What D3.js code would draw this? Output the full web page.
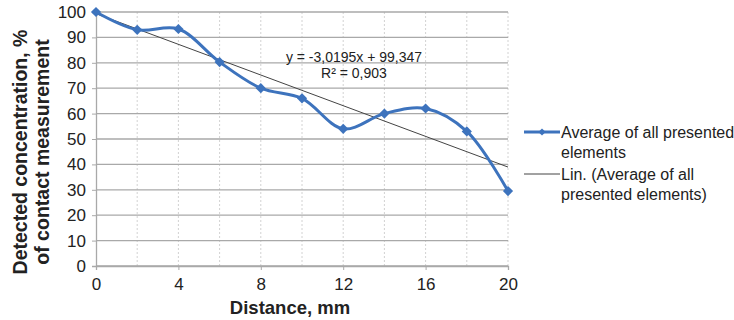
<!DOCTYPE html>
<html>
<head>
<meta charset="utf-8">
<script src="https://cdn.jsdelivr.net/npm/d3@7"></script>
<style>
  html, body { margin: 0; padding: 0; background: #fff; }
  svg { display: block; font-family: "Liberation Sans", Arial, sans-serif; }
</style>
</head>
<body>
<svg id="chart" width="734" height="320"></svg>
<script>
// Distance from contact point (mm) and averaged detected concentration (%)
const distances = [0, 2, 4, 6, 8, 10, 12, 14, 16, 18, 20];
const averages = [100, 93, 93.3, 80.3, 70, 66, 54, 60, 62, 53, 29.5];

// Linear trend reported for the series
const trendSlope = -3.0195;
const trendIntercept = 99.347;
const trendLabel = "y = -3,0195x + 99,347";
const r2Label = "R² = 0,903";

const xTicks = [0, 4, 8, 12, 16, 20];
const xGrid = [2, 4, 6, 8, 10, 12, 14, 16, 18, 20];
const yTicks = [0, 10, 20, 30, 40, 50, 60, 70, 80, 90, 100];

const seriesName = ["Average of all presented", "elements"];
const trendName = ["Lin. (Average of all", "presented elements)"];
const yTitle = ["Detected concentration, %", "of contact measurement"];
const xTitle = "Distance, mm";

const blue = "#3d73bd";
const svg = d3.select("#chart");

const x = d3.scaleLinear().domain([0, 20]).range([96, 508]);
const y = d3.scaleLinear().domain([0, 100]).range([266, 12]);

// Vertical dotted gridlines
svg.append("g").selectAll("line").data(xGrid).join("line")
  .attr("x1", d => x(d)).attr("x2", d => x(d))
  .attr("y1", y(100)).attr("y2", y(0))
  .attr("stroke", "#d2d2d2").attr("stroke-width", 1)
  .attr("stroke-dasharray", "2,2");

// Horizontal gridlines
svg.append("g").selectAll("line").data(yTicks).join("line")
  .attr("x1", x(0)).attr("x2", x(20))
  .attr("y1", d => y(d)).attr("y2", d => y(d))
  .attr("stroke", "#a9a9a9").attr("stroke-width", 1.3);

// Axes
const yAxis = svg.append("g").attr("transform", `translate(${x(0)},0)`)
  .call(d3.axisLeft(y).tickValues(yTicks).tickSize(4).tickPadding(6));
const xAxis = svg.append("g").attr("transform", `translate(0,${y(0)})`)
  .call(d3.axisBottom(x).tickValues(xTicks).tickSize(4).tickPadding(8));
[yAxis, xAxis].forEach(g => {
  g.select(".domain").attr("stroke", "#a9a9a9").attr("stroke-width", 1.3);
  g.selectAll(".tick line").attr("stroke", "#a9a9a9");
  g.selectAll(".tick text").attr("fill", "#222").attr("font-size", 17)
    .attr("font-family", "Liberation Sans, Arial, sans-serif");
});

// Trend line
svg.append("line")
  .attr("x1", x(0)).attr("y1", y(trendIntercept))
  .attr("x2", x(20)).attr("y2", y(trendIntercept + trendSlope * 20))
  .attr("stroke", "#444").attr("stroke-width", 1);

// Smoothed data series
const pts = distances.map((d, i) => [d, averages[i]]);
svg.append("path")
  .attr("d", d3.line().x(d => x(d[0])).y(d => y(d[1])).curve(d3.curveCatmullRom.alpha(0.5))(pts))
  .attr("fill", "none").attr("stroke", blue).attr("stroke-width", 3);

// Diamond markers (rotated squares)
const square = d3.symbol().type(d3.symbolSquare).size(52);
svg.append("g").selectAll("path").data(pts).join("path")
  .attr("transform", d => `translate(${x(d[0])},${y(d[1])}) rotate(45)`)
  .attr("d", square).attr("fill", blue);

// Trend equation
svg.append("text").attr("x", 354).attr("y", 62).attr("text-anchor", "middle")
  .attr("font-size", 14).attr("fill", "#222").text(trendLabel);
svg.append("text").attr("x", 354).attr("y", 78).attr("text-anchor", "middle")
  .attr("font-size", 14).attr("fill", "#222").text(r2Label);

// Axis titles
svg.append("text").attr("x", 290).attr("y", 314).attr("text-anchor", "middle")
  .attr("font-size", 18.5).attr("font-weight", "bold").attr("fill", "#222").text(xTitle);
const yt = svg.append("text").attr("transform", "translate(27,152) rotate(-90)")
  .attr("text-anchor", "middle").attr("font-size", 19.5).attr("font-weight", "bold").attr("fill", "#222");
yTitle.forEach((t, i) => yt.append("tspan").attr("x", 0).attr("dy", i ? 22 : 0).text(t));

// Legend
const lg = svg.append("g");
lg.append("line").attr("x1", 524).attr("x2", 560).attr("y1", 132).attr("y2", 132)
  .attr("stroke", blue).attr("stroke-width", 3);
lg.append("path").attr("transform", "translate(542,132) rotate(45)")
  .attr("d", d3.symbol().type(d3.symbolSquare).size(26)).attr("fill", blue);
lg.append("line").attr("x1", 524).attr("x2", 560).attr("y1", 174).attr("y2", 174)
  .attr("stroke", "#444").attr("stroke-width", 1);
const lt1 = lg.append("text").attr("font-size", 16).attr("fill", "#222");
seriesName.forEach((t, i) => lt1.append("tspan").attr("x", 561).attr("y", 138 + i * 20).text(t));
const lt2 = lg.append("text").attr("font-size", 16).attr("fill", "#222");
trendName.forEach((t, i) => lt2.append("tspan").attr("x", 561).attr("y", 180 + i * 20).text(t));
</script>
</body>
</html>
